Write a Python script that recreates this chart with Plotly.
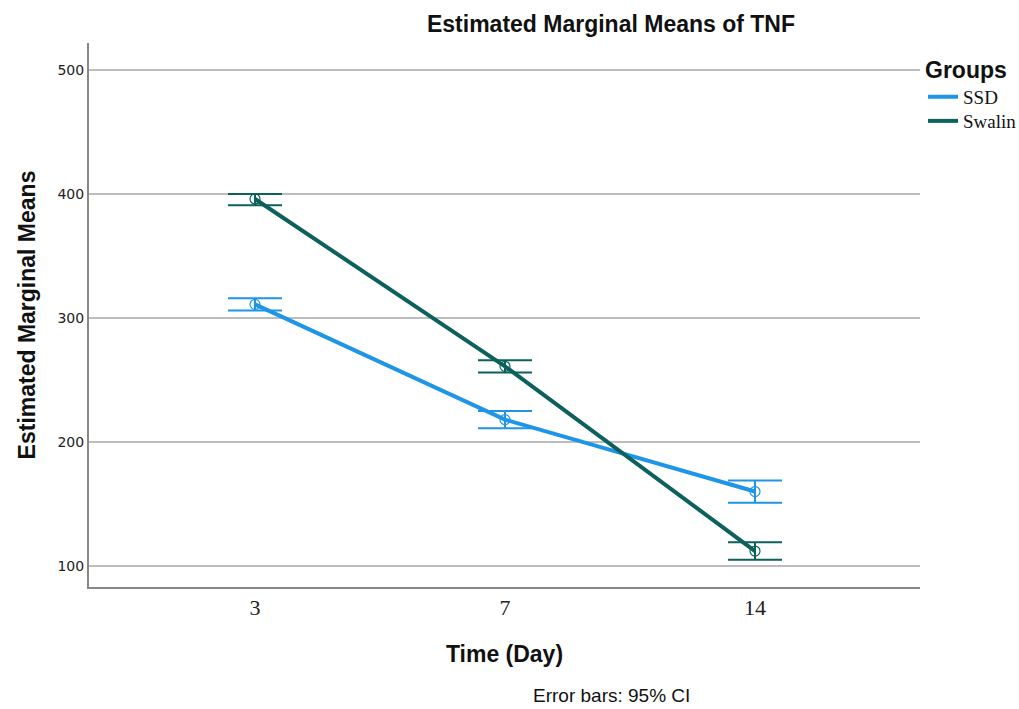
import plotly.graph_objects as go

days = ["3", "7", "14"]
ssd_mean = [311, 218, 160]
ssd_upper = [316, 225, 169]
ssd_lower = [306, 211, 151]
swalin_mean = [396, 261, 112]
swalin_upper = [400, 266, 119]
swalin_lower = [391, 256, 105]
y_ticks = [100, 200, 300, 400, 500]

ssd_color = "#1F95E8"
swalin_color = "#0C615C"

fig = go.Figure()

def add_series(name, mean, upper, lower, color, legend_id):
    fig.add_trace(go.Scatter(
        x=days, y=mean, name=name, mode="lines+markers", showlegend=False,
        line=dict(color=color, width=4),
        marker=dict(symbol="circle-open", size=10, color=color, line=dict(width=1.2)),
        error_y=dict(type="data", symmetric=False,
                     array=[u - m for u, m in zip(upper, mean)],
                     arrayminus=[m - l for m, l in zip(mean, lower)],
                     color=color, thickness=2, width=27),
    ))
    fig.add_trace(go.Scatter(
        x=[None], y=[None], name=name, mode="lines",
        line=dict(color=color, width=4), showlegend=True, legend=legend_id,
    ))

add_series("SSD", ssd_mean, ssd_upper, ssd_lower, ssd_color, "legend")
add_series("Swalin", swalin_mean, swalin_upper, swalin_lower, swalin_color, "legend2")

legend_font = dict(family="Liberation Serif, Times New Roman", size=19, color="#111")
legend_x = (923 - 89) / 831

fig.update_layout(
    width=1019, height=709,
    paper_bgcolor="white", plot_bgcolor="white",
    margin=dict(l=89, r=99, t=43, b=122, autoexpand=False),
    title=dict(text="<b>Estimated Marginal Means of TNF</b>", x=611 / 1019, xanchor="center",
               xref="container", yref="container", y=1 - 24 / 709, yanchor="middle",
               font=dict(family="Liberation Sans, Arial", size=23, color="#111")),
    legend=dict(x=legend_x, y=0.9908, xanchor="left", yanchor="top",
                title=dict(text="<b>Groups</b>", font=dict(family="Liberation Sans, Arial", size=23, color="#111"), side="top"),
                font=legend_font, tracegroupgap=0, itemwidth=30, bgcolor="rgba(0,0,0,0)"),
    legend2=dict(x=legend_x, y=0.8915, xanchor="left", yanchor="top",
                 font=legend_font, tracegroupgap=0, itemwidth=30, bgcolor="rgba(0,0,0,0)"),
    xaxis=dict(type="category", range=[-0.664, 2.66],
               showline=True, linecolor="#888", linewidth=2, mirror=False,
               showgrid=False, ticks="", tickfont=dict(family="Liberation Serif, Times New Roman", size=22, color="#222"),
               title=dict(text="<b>Time (Day)</b>", font=dict(family="Liberation Sans, Arial", size=23, color="#111"), standoff=26)),
    yaxis=dict(range=[83, 521.8], tickvals=y_ticks,
               showline=True, linecolor="#888", linewidth=2,
               showgrid=True, gridcolor="#BDBDBD", gridwidth=1.5, zeroline=False,
               ticks="", tickfont=dict(family="DejaVu Sans, Tahoma", size=14, color="#222"),
               title=dict(text="<b>Estimated Marginal Means</b>", font=dict(family="Liberation Sans, Arial", size=23, color="#111"), standoff=15)),
    showlegend=True,
)

fig.add_annotation(text="Error bars: 95% CI", xref="paper", yref="paper",
                   x=(611 - 89) / 831, y=-(708 - 587) / 544, xanchor="center", yanchor="bottom",
                   showarrow=False, font=dict(family="Liberation Sans, Arial", size=19, color="#111"))

fig.write_html("out.html", config={"displayModeBar": False})

with open("out.html", "r", encoding="utf-8") as f:
    html = f.read()
html = html.replace("<body>", '<body style="margin:0;padding:0;overflow:hidden">', 1)
with open("out.html", "w", encoding="utf-8") as f:
    f.write(html)
